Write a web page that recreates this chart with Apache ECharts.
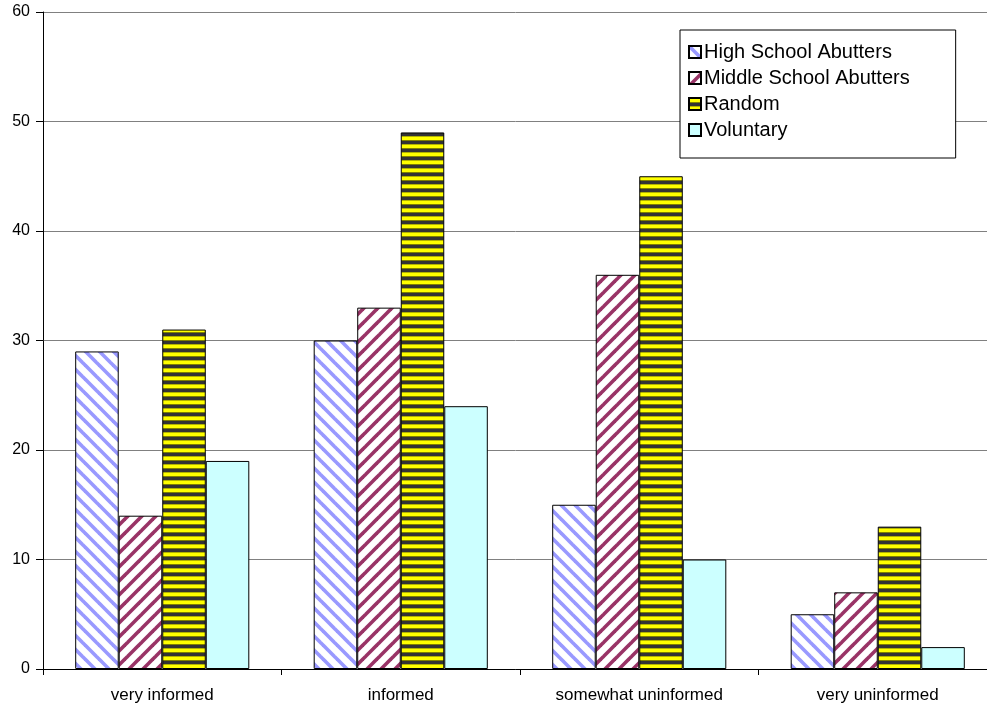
<!DOCTYPE html>
<html>
<head>
<meta charset="utf-8">
<script src="https://cdn.jsdelivr.net/npm/echarts@6/dist/echarts.min.js"></script>
<style>
  html, body { margin: 0; padding: 0; background: #fff; }
  #chart { width: 987px; height: 709px; }
</style>
</head>
<body>
<div id="chart"></div>
<script>
// categories and series values
var categories = ['very informed', 'informed', 'somewhat uninformed', 'very uninformed'];
var seriesNames = ['High School Abutters', 'Middle School Abutters', 'Random', 'Voluntary'];
var highSchool = [29, 30, 15, 5];
var middleSchool = [14, 33, 36, 7];
var randomGroup = [31, 49, 45, 13];
var voluntary = [19, 24, 10, 2];
var yTicks = [0, 10, 20, 30, 40, 50, 60];

// small canvas tiles used as bar fills
function diagTile(color, forward) {
  var n = 14;
  var c = document.createElement('canvas');
  c.width = n; c.height = n;
  var g = c.getContext('2d');
  g.fillStyle = '#fff';
  g.fillRect(0, 0, n, n);
  g.strokeStyle = color;
  g.lineWidth = 3.6;
  for (var k = -n; k <= n; k += n) {
    g.beginPath();
    if (forward) { // "/" stripes
      g.moveTo(k - 2, n + 2); g.lineTo(k + n + 2, -2);
    } else {       // "\" stripes
      g.moveTo(k - 2, -2); g.lineTo(k + n + 2, n + 2);
    }
    g.stroke();
  }
  return c;
}
function hStripeTile() {
  var c = document.createElement('canvas');
  c.width = 4; c.height = 8;
  var g = c.getContext('2d');
  g.fillStyle = '#ffff00';
  g.fillRect(0, 0, 4, 8);
  g.fillStyle = '#b3b300';
  g.fillRect(0, 0, 4, 1);
  g.fillStyle = '#333333';
  g.fillRect(0, 5, 4, 3);
  g.fillStyle = '#808000';
  g.fillRect(0, 4, 4, 1);
  return c;
}

var fills = [
  { image: diagTile('#9999ff', false), repeat: 'repeat' },
  { image: diagTile('#993366', true), repeat: 'repeat' },
  { image: hStripeTile(), repeat: 'repeat' },
  '#ccffff'
];
var values = [highSchool, middleSchool, randomGroup, voluntary];

var chart = echarts.init(document.getElementById('chart'));
var option = {
  animation: false,
  backgroundColor: '#ffffff',
  textStyle: { fontFamily: 'Liberation Sans, Arial, sans-serif' },
  grid: { left: 43, top: 12, width: 954, bottom: 40, outerBoundsMode: 'none', containLabel: false },
  legend: {
    orient: 'vertical',
    left: 680,
    top: 30,
    padding: [12, 46, 18, 8],
    itemGap: 6,
    itemWidth: 12,
    itemHeight: 12,
    borderColor: '#000',
    borderWidth: 1,
    backgroundColor: '#fff',
    icon: 'rect',
    data: seriesNames,
    textStyle: { fontSize: 20, color: '#000', fontFamily: 'Liberation Sans, Arial, sans-serif', padding: [0, 0, 0, -2] }
  },
  xAxis: {
    type: 'category',
    data: categories,
    axisLine: { lineStyle: { color: '#000', width: 1 } },
    axisTick: { show: true, length: 6, lineStyle: { color: '#000' } },
    axisLabel: { color: '#000', fontSize: 17, margin: 18 }
  },
  yAxis: {
    type: 'value',
    min: yTicks[0],
    max: yTicks[yTicks.length - 1],
    interval: 10,
    axisLine: { show: true, lineStyle: { color: '#000', width: 1 } },
    axisTick: { show: true, length: 7, lineStyle: { color: '#000' } },
    axisLabel: { color: '#000', fontSize: 16, margin: 13 },
    splitLine: { lineStyle: { color: '#808080', width: 1 } }
  },
  series: seriesNames.map(function (name, i) {
    return {
      name: name,
      type: 'bar',
      data: values[i],
      barGap: '0%',
      barCategoryGap: '27%',
      itemStyle: { color: fills[i], borderColor: '#000', borderWidth: 1 }
    };
  })
};
chart.setOption(option);
</script>
</body>
</html>
